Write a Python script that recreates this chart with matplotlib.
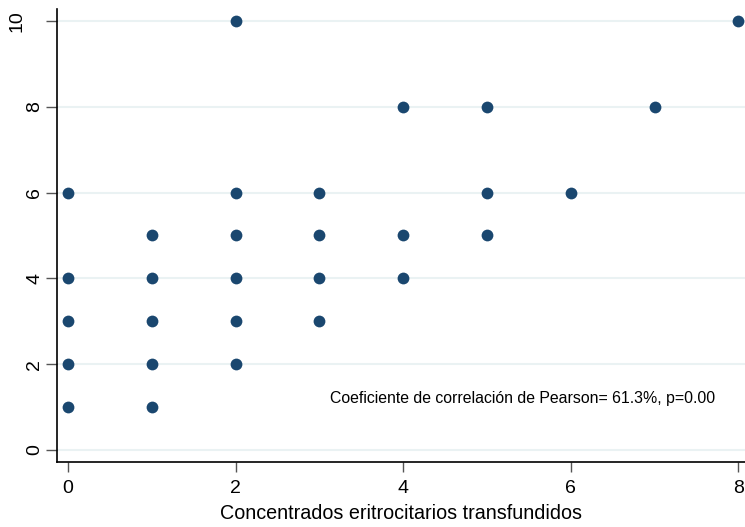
import matplotlib.pyplot as plt

# datos (concentrados transfundidos vs. otra variable)
x_vals = [0, 0, 0, 0, 0, 1, 1, 1, 1, 1, 2, 2, 2, 2, 2, 2,
          3, 3, 3, 3, 4, 4, 4, 5, 5, 5, 6, 7, 8]
y_vals = [1, 2, 3, 4, 6, 1, 2, 3, 4, 5, 2, 3, 4, 5, 6, 10,
          3, 4, 5, 6, 4, 5, 8, 5, 6, 8, 6, 8, 10]
x_ticks = [0, 2, 4, 6, 8]
y_ticks = [0, 2, 4, 6, 8, 10]

plt.rcParams['font.family'] = ['Liberation Sans', 'DejaVu Sans']

fig = plt.figure(figsize=(7.45, 5.27), dpi=100)
ax = fig.add_axes([57/745, 1 - 462/527, 688/745, 453/527])

ax.scatter(x_vals, y_vals, s=72, color='#1a476f', zorder=3, linewidths=0)

ax.set_xlim(-0.131, 8.08)
ax.set_ylim(-0.28, 10.28)
ax.set_xticks(x_ticks)
ax.set_yticks(y_ticks)
ax.set_yticklabels([])
ax.grid(axis='y', color='#eaf2f3', linewidth=1.5, zorder=0)

# etiquetas del eje y giradas (el "10" queda más a la izquierda, como en Stata)
trans = ax.get_yaxis_transform()
for t in y_ticks:
    xpos = -0.0581 if t >= 10 else -0.0327
    ax.text(xpos, t, str(t), transform=trans, rotation=90,
            ha='center', va='center', fontsize=14)

for s in ['top', 'right']:
    ax.spines[s].set_visible(False)
ax.spines['left'].set_linewidth(1.2)
ax.spines['bottom'].set_linewidth(1.2)
ax.tick_params(axis='y', length=8, width=1, color='#555555')
ax.tick_params(axis='x', length=7, width=1, color='#555555', labelsize=14, pad=6)

ax.set_xlabel('Concentrados eritrocitarios transfundidos', fontsize=14.2, labelpad=5)
ax.text(3.13, 1.2, 'Coeficiente de correlación de Pearson= 61.3%, p=0.00',
        fontsize=11.4, va='center', ha='left')

fig.savefig('out.png', dpi=100)
